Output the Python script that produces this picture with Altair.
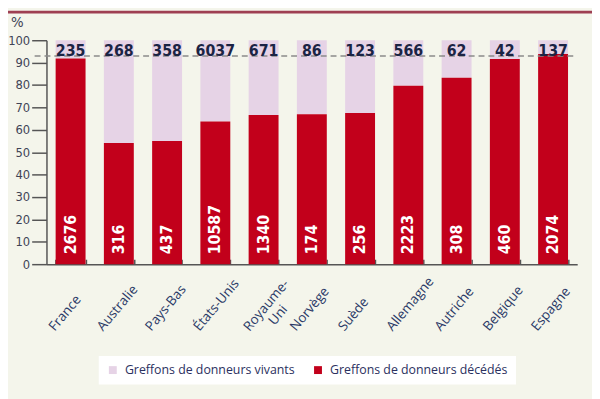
import altair as alt
import pandas as pd

countries = ["France", "Australie", "Pays-Bas", "États-Unis", "Royaume-Uni", "Norvège",
             "Suède", "Allemagne", "Autriche", "Belgique", "Espagne"]
living_counts = [235, 268, 358, 6037, 671, 86, 123, 566, 62, 42, 137]
deceased_counts = [2676, 316, 437, 10587, 1340, 174, 256, 2223, 308, 460, 2074]
deceased_pct = [91.9, 54.1, 55.0, 63.7, 66.6, 66.9, 67.5, 79.7, 83.2, 91.6, 93.8]
y_ticks = [0, 10, 20, 30, 40, 50, 60, 70, 80, 90, 100]
reference_line = 93
series = ["Greffons de donneurs vivants", "Greffons de donneurs décédés"]

rows = []
for c, p in zip(countries, deceased_pct):
    rows.append({"pays": c, "type": series[0], "lo": p, "hi": 100})
    rows.append({"pays": c, "type": series[1], "lo": 0, "hi": p})
df = pd.DataFrame(rows)
dfl = pd.DataFrame({"pays": countries, "vivants": living_counts, "decedes": deceased_counts})

BG = "#f4f5eb"
NARROW = "DejaVu Sans Condensed, sans-serif"
AX = "#555555"
W, H = 538, 227
RU = "datum.value == 'Royaume-Uni'"

xscale = alt.Scale(domain=countries, paddingInner=0.38, paddingOuter=0.19)
yscale = alt.Scale(domain=[0, 100], nice=False)
yaxis = alt.Axis(values=y_ticks, grid=False, tickSize=15, tickWidth=1.5, tickColor=AX,
                 domainColor=AX, domainWidth=1.5, labelPadding=2, labelOverlap=False,
                 labelFont=NARROW, labelFontSize=13, labelColor="#404355",
                 title="%", titleAngle=0, titleX=-30, titleY=-14, titleAlign="center",
                 titleBaseline="alphabetic", titleFont=NARROW, titleFontSize=15,
                 titleFontWeight="normal", titleColor="#404355")

xaxis = alt.Axis(
    labelAngle=-50,
    labelAlign={"condition": {"test": RU, "value": "center"}, "value": "left"},
    labelBaseline="alphabetic",
    labelOffset={"condition": {"test": RU, "value": 6}, "value": -16},
    labelPadding={"condition": {"test": RU, "value": 44}, "value": 68},
    ticks=False, tickSize=0, domainColor=AX, domainWidth=1.5,
    labelFont="Open Sans", labelFontSize=13.5, labelColor="#2b3a67",
    labelExpr="datum.value == 'Royaume-Uni' ? ['Royaume-', 'Uni'] : datum.value",
)

bars = alt.Chart(df).mark_bar().encode(
    x=alt.X("pays:N", sort=countries, scale=xscale, title=None, axis=xaxis),
    y=alt.Y("lo:Q", scale=yscale, axis=yaxis),
    y2="hi:Q",
    color=alt.Color("type:N", scale=alt.Scale(domain=series, range=["#e6d3e6", "#c2001b"]),
                    legend=alt.Legend(title=None, orient="none", legendX=53, legendY=320,
                                      direction="horizontal", fillColor="white", padding=8,
                                      symbolType="square", symbolSize=64, symbolStrokeWidth=0,
                                      labelFont="Open Sans", labelFontSize=12.5, labelColor="#2b3060",
                                      labelLimit=400, labelOffset=6, columnPadding=17)),
)

top_labels = alt.Chart(dfl).mark_text(
    baseline="top", dy=3, font=NARROW, fontSize=16, fontWeight="bold", color="#1b2444"
).encode(
    x=alt.X("pays:N", sort=countries, scale=xscale, title=None,
            axis=alt.Axis(orient="top", offset=-H, labels=False, domain=False, ticks=True,
                          tickBand="extent", tickSize=5, tickWidth=1.5, tickColor=AX)),
    y=alt.Y(datum=100, scale=yscale, axis=yaxis),
    text="vivants:Q",
)

bottom_labels = alt.Chart(dfl).mark_text(
    angle=270, align="left", baseline="middle", dx=10, font=NARROW, fontSize=16,
    fontWeight="bold", color="white"
).encode(
    x=alt.X("pays:N", sort=countries, scale=xscale, axis=None),
    y=alt.Y(datum=0, scale=yscale, axis=yaxis),
    text="decedes:Q",
)

rule = alt.Chart(pd.DataFrame({"v": [reference_line]})).mark_rule(
    color="#8a8a8a", strokeDash=[6, 4], strokeWidth=1.5
).encode(x=alt.value(-12), x2=alt.value(W), y=alt.Y("v:Q", scale=yscale, axis=yaxis))

band = alt.Chart(pd.DataFrame({"a": [0]})).mark_rect(color="#9e3f52").encode(
    x=alt.value(-39), x2=alt.value(W + 20), y=alt.value(-30), y2=alt.value(-27)
)

chart = alt.layer(band, bars, rule, top_labels, bottom_labels).resolve_axis(
    x="independent"
).properties(
    width=W, height=H,
    background=BG,
    padding={"left": 39, "top": 30, "right": 15, "bottom": 134},
    autosize=alt.AutoSizeParams(type="none"),
).configure_view(stroke=None)

chart.save("out.html", embed_options={"renderer": "svg", "actions": False})
